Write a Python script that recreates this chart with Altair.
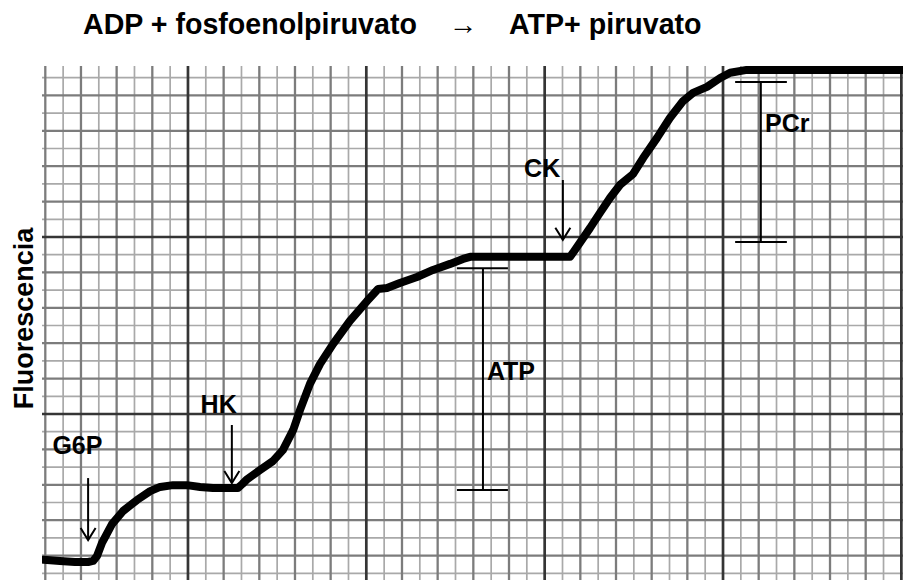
import altair as alt
import pandas as pd

# Recorder trace, in graph-paper units (1 unit = one medium square)
trace_x = [0.96, 1.41, 1.83, 2.20, 2.34, 2.45, 2.59, 2.87, 3.18, 3.57, 3.94, 4.22,
           4.58, 4.97, 5.34, 5.70, 6.09, 6.40, 6.52, 6.66, 7.02, 7.38, 7.66, 7.95,
           8.14, 8.42, 8.70, 9.07, 9.54, 10.02, 10.33, 10.58, 10.94, 11.42, 11.87,
           12.35, 12.71, 12.91, 14.31, 15.71, 15.79, 16.27, 16.55, 16.83, 17.11,
           17.48, 17.76, 18.15, 18.51, 18.88, 19.16, 19.55, 19.92, 20.20, 20.67,
           22.16, 25.05]
trace_y = [0.88, 0.85, 0.82, 0.82, 0.85, 0.99, 1.36, 1.89, 2.26, 2.57, 2.82, 2.94,
           2.99, 2.99, 2.94, 2.91, 2.91, 2.91, 3.02, 3.16, 3.42, 3.67, 3.98, 4.55,
           5.11, 5.85, 6.41, 6.98, 7.63, 8.19, 8.53, 8.56, 8.70, 8.87, 9.07,
           9.24, 9.38, 9.44, 9.44, 9.44, 9.55, 10.25, 10.68, 11.10, 11.47,
           11.78, 12.23, 12.80, 13.36, 13.84, 14.07, 14.24, 14.49, 14.64, 14.72,
           14.72, 14.72]

# Additions marked with arrows: label, arrow x, arrow top, arrow tip, label x, label baseline
arrow_labels = ["G6P", "HK", "CK"]
arrow_x = [2.20, 6.23, 15.51]
arrow_top = [3.19, 4.69, 11.61]
arrow_tip = [1.44, 3.05, 9.92]
arrow_label_x = [1.90, 5.86, 14.93]
arrow_label_y = [3.87, 5.03, 11.69]

# Step sizes measured with brackets
bracket_labels = ["ATP", "PCr"]
bracket_x = [13.27, 21.06]
bracket_low = [2.85, 9.86]
bracket_high = [9.12, 14.38]
bracket_cap_left = [12.54, 20.34]
bracket_cap_right = [13.97, 21.79]
bracket_label_x = [13.38, 21.18]
bracket_label_y = [5.96, 12.97]

x_domain = [0.9075, 25.046]
y_domain = [0.311, 14.83]

FONT = "Liberation Sans"

trace = pd.DataFrame({"t": trace_x, "f": trace_y, "order": range(len(trace_x))})
arrows = pd.DataFrame({"label": arrow_labels, "x": arrow_x, "top": arrow_top,
                       "tip": arrow_tip, "lx": arrow_label_x, "ly": arrow_label_y})
brackets = pd.DataFrame({"label": bracket_labels, "x": bracket_x, "low": bracket_low,
                         "high": bracket_high, "cl": bracket_cap_left,
                         "cr": bracket_cap_right, "lx": bracket_label_x,
                         "ly": bracket_label_y})

xs = alt.Scale(domain=x_domain, nice=False, zero=False)
ys = alt.Scale(domain=y_domain, nice=False, zero=False)

# Shared y axis: only the rotated title is shown
Y_AX = alt.Axis(
    title="Fluorescencia", labels=False, ticks=False, domain=False, grid=False,
    titleFont=FONT, titleFontSize=27, titleFontWeight="bold", titleColor="black",
    titleAngle=270, titleAlign="center", titleBaseline="alphabetic",
    titleX=-10, titleY=252)


def X(field):
    return alt.X(field, scale=xs, axis=None)


def Y(field):
    return alt.Y(field, scale=ys, axis=Y_AX)


# Graph paper: thin lines every half square, medium every square, heavy every five
half_steps = [i / 2 for i in range(0, 52)]
v_thin = [v for v in half_steps if v % 1 != 0 and x_domain[0] < v < x_domain[1]]
v_med = [v for v in half_steps if v % 1 == 0 and v % 5 != 0 and x_domain[0] < v < x_domain[1]]
v_major = [v for v in half_steps if v % 5 == 0 and x_domain[0] < v <= x_domain[1]]
h_thin = [v for v in half_steps if v % 1 != 0 and y_domain[0] < v < y_domain[1]]
h_med = [v for v in half_steps if v % 1 == 0 and v % 5 != 0 and y_domain[0] < v < y_domain[1]]
h_major = [v for v in half_steps if v % 5 == 0 and y_domain[0] < v < y_domain[1]]


def vlines(vals, color, width):
    return alt.Chart(pd.DataFrame({"v": vals})).mark_rule(
        color=color, strokeWidth=width).encode(x=X("v:Q"))


def hlines(vals, color, width):
    return alt.Chart(pd.DataFrame({"v": vals})).mark_rule(
        color=color, strokeWidth=width).encode(y=Y("v:Q"))


grid = alt.layer(
    vlines(v_thin, "#a9a9a9", 1.7), hlines(h_thin, "#a9a9a9", 1.7),
    vlines(v_med, "#7c7c7c", 2.3), hlines(h_med, "#7c7c7c", 2.3),
    vlines(v_major, "#353535", 2.7), hlines(h_major, "#353535", 2.7),
)

line = alt.Chart(trace).mark_line(
    color="black", strokeWidth=8, strokeCap="round", strokeJoin="round", clip=True
).encode(x=X("t:Q"), y=Y("f:Q"), order="order:Q")

arrow_base = alt.Chart(arrows)
arrow_shafts = arrow_base.mark_rule(color="black", strokeWidth=2).encode(
    x=X("x:Q"), y=Y("top:Q"), y2="tip:Q")
arrow_heads = arrow_base.mark_point(
    shape="M-1,-1.6L0,0L1,-1.6", size=225, filled=False, color="black",
    strokeWidth=2, opacity=1
).encode(x=X("x:Q"), y=Y("tip:Q"))
arrow_text = arrow_base.mark_text(
    font=FONT, fontSize=25, fontWeight="bold", color="black",
    align="center", baseline="alphabetic"
).encode(x=X("lx:Q"), y=Y("ly:Q"), text="label:N")

br_base = alt.Chart(brackets)
br_stem = br_base.mark_rule(color="black", strokeWidth=2).encode(
    x=X("x:Q"), y=Y("low:Q"), y2="high:Q")
br_top = br_base.mark_rule(color="black", strokeWidth=2).encode(
    x=X("cl:Q"), x2="cr:Q", y=Y("high:Q"))
br_bottom = br_base.mark_rule(color="black", strokeWidth=2).encode(
    x=X("cl:Q"), x2="cr:Q", y=Y("low:Q"))
br_text = br_base.mark_text(
    font=FONT, fontSize=25, fontWeight="bold", color="black",
    align="left", baseline="alphabetic"
).encode(x=X("lx:Q"), y=Y("ly:Q"), text="label:N")

chart = alt.layer(
    grid, line, arrow_shafts, arrow_heads, arrow_text,
    br_stem, br_top, br_bottom, br_text,
).properties(
    width=861,
    height=514,
    title=alt.TitleParams(
        "ADP + fosfoenolpiruvato\u00a0\u00a0\u00a0\u00a0\u2192\u00a0\u00a0\u00a0\u00a0ATP+ piruvato",
        font=FONT, fontSize=28.6, fontWeight="bold", color="black",
        anchor="start", frame="group", dx=41, offset=25),
    autosize=alt.AutoSizeParams(type="none"),
    padding={"left": 42, "top": 66, "right": 0, "bottom": 0},
    background="white",
).configure_view(stroke=None)

chart.save("out.html", embed_options={"renderer": "svg", "actions": False})
